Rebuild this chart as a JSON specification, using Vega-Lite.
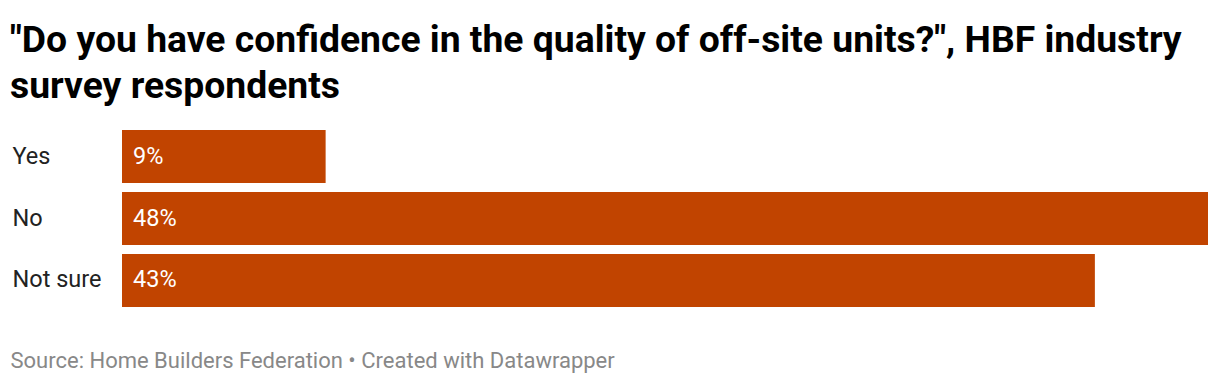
{
  "$schema": "https://vega.github.io/schema/vega-lite/v6.json",
  "autosize": "none",
  "width": 1086,
  "height": 177,
  "padding": {"left": 122, "top": 130, "right": 12, "bottom": 77},
  "background": "white",
  "config": {"view": {"stroke": null}, "font": "Roboto"},
  "title": {
    "text": ["\"Do you have confidence in the quality of off-site units?\", HBF industry", "survey respondents"],
    "anchor": "start",
    "frame": "group",
    "dx": -112,
    "dy": 38,
    "fontSize": 37.3,
    "fontWeight": "bold",
    "font": "Roboto",
    "color": "#000000",
    "lineHeight": 46,
    "baseline": "alphabetic",
    "offset": 33
  },
  "data": {
    "values": [
      {"answer": "Yes", "pct": 9, "label": "9%"},
      {"answer": "No", "pct": 48, "label": "48%"},
      {"answer": "Not sure", "pct": 43, "label": "43%"}
    ]
  },
  "encoding": {
    "y": {
      "field": "answer",
      "type": "nominal",
      "sort": null,
      "scale": {"paddingInner": 0.145, "paddingOuter": 0},
      "axis": {
        "title": null,
        "ticks": false,
        "tickSize": 0,
        "domain": false,
        "labelAlign": "left",
        "labelPadding": 110,
        "labelFontSize": 23.5,
        "labelFont": "Roboto",
        "labelColor": "#222222"
      }
    }
  },
  "layer": [
    {
      "mark": {"type": "bar", "color": "#c14400", "cornerRadius": 0},
      "encoding": {
        "x": {
          "field": "pct",
          "type": "quantitative",
          "scale": {"domain": [0, 48], "nice": false},
          "axis": {
            "grid": false,
            "labels": false,
            "ticks": false,
            "domain": false,
            "title": "Source: Home Builders Federation • Created with Datawrapper",
            "titleAnchor": "start",
            "titleAlign": "left",
            "titleX": -112,
            "titleY": 60,
            "titleBaseline": "alphabetic",
            "titleFont": "Roboto",
            "titleFontSize": 22,
            "titleFontWeight": "normal",
            "titleColor": "#888888"
          }
        }
      }
    },
    {
      "mark": {"type": "text", "align": "left", "dx": 11, "baseline": "middle", "color": "white", "fontSize": 23.5, "font": "Roboto"},
      "encoding": {
        "x": {"datum": 0},
        "text": {"field": "label", "type": "nominal"}
      }
    }
  ]
}
